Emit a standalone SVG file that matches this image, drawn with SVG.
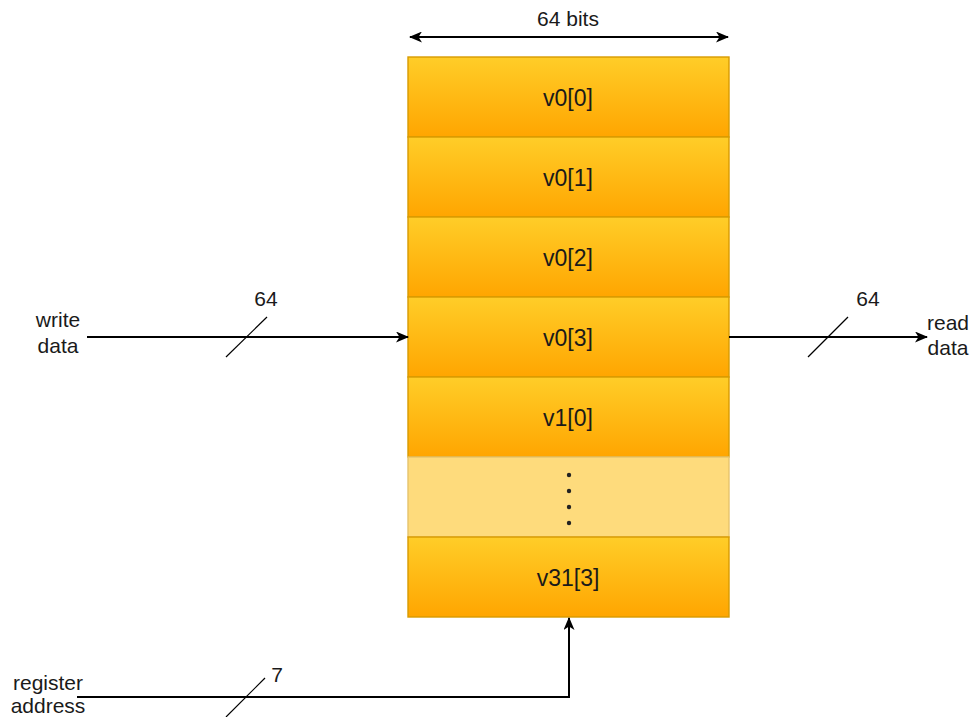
<svg xmlns="http://www.w3.org/2000/svg" width="973" height="717" viewBox="0 0 973 717">
  <defs>
    <linearGradient id="cellFill" x1="0" y1="0" x2="0" y2="1">
      <stop offset="0" stop-color="#ffcd28"/>
      <stop offset="1" stop-color="#ffa500"/>
    </linearGradient>
    <marker id="arrow" viewBox="0 0 13 11" refX="12" refY="5.5" markerWidth="13" markerHeight="11" markerUnits="userSpaceOnUse" orient="auto-start-reverse">
      <path d="M0,0 L13,5.5 L0,11 L3.5,5.5 Z" fill="#000"/>
    </marker>
  </defs>
  <style>
    text { font-family: "Liberation Sans", Arial, sans-serif; fill: #1a1a1a; text-anchor: middle; }
    .cell { fill: url(#cellFill); stroke: #d79b00; stroke-width: 1.4; }
    .gap { fill: #fedb7c; stroke: #e6c46c; stroke-width: 1.4; }
    .name { font-size: 23px; }
    .lbl { font-size: 21px; }
    .wire { fill: none; stroke: #000; stroke-width: 2; }
    .tick { stroke: #000; stroke-width: 1.2; }
  </style>

  <rect width="973" height="717" fill="#ffffff"/>

  <!-- register file rows -->
  <g id="row-v0-0"><rect class="cell" x="408" y="57" width="321" height="80"/><text class="name" x="568" y="106">v0[0]</text></g>
  <g id="row-v0-1"><rect class="cell" x="408" y="137" width="321" height="80"/><text class="name" x="568" y="186">v0[1]</text></g>
  <g id="row-v0-2"><rect class="cell" x="408" y="217" width="321" height="80"/><text class="name" x="568" y="266">v0[2]</text></g>
  <g id="row-v0-3"><rect class="cell" x="408" y="297" width="321" height="80"/><text class="name" x="568" y="346">v0[3]</text></g>
  <g id="row-v1-0"><rect class="cell" x="408" y="377" width="321" height="80"/><text class="name" x="568" y="426">v1[0]</text></g>
  <g id="row-ellipsis">
    <rect class="gap" x="408" y="457" width="321" height="80"/>
    <circle cx="569" cy="475" r="2.2" fill="#222"/>
    <circle cx="569" cy="491" r="2.2" fill="#222"/>
    <circle cx="569" cy="507" r="2.2" fill="#222"/>
    <circle cx="569" cy="523" r="2.2" fill="#222"/>
  </g>
  <g id="row-v31-3"><rect class="cell" x="408" y="537" width="321" height="80"/><text class="name" x="568" y="586">v31[3]</text></g>

  <!-- width annotation -->
  <g id="width-label"><text class="lbl" x="568" y="26">64 bits</text></g>

  <!-- port labels -->
  <g id="write-data"><text class="lbl" x="58" y="327">write</text><text class="lbl" x="58" y="353">data</text></g>
  <g id="read-data"><text class="lbl" x="948" y="330">read</text><text class="lbl" x="948" y="355">data</text></g>
  <g id="register-address"><text class="lbl" x="48" y="690">register</text><text class="lbl" x="48" y="713">address</text></g>

  <!-- bus widths -->
  <g id="bus-widths">
    <text class="lbl" x="266" y="306">64</text>
    <text class="lbl" x="868" y="306">64</text>
    <text class="lbl" x="277" y="682">7</text>
  </g>

  <!-- connectors -->
  <g id="connectors">
    <line class="wire" x1="410" y1="37" x2="728" y2="37" marker-start="url(#arrow)" marker-end="url(#arrow)"/>
    <line class="wire" x1="87" y1="337" x2="408" y2="337" marker-end="url(#arrow)"/>
    <line class="wire" x1="729" y1="337" x2="927" y2="337" marker-end="url(#arrow)"/>
    <polyline class="wire" points="77,697 569,697 569,618" marker-end="url(#arrow)"/>
    <line class="tick" x1="226" y1="357" x2="267" y2="317"/>
    <line class="tick" x1="808" y1="357" x2="848" y2="317"/>
    <line class="tick" x1="226" y1="717" x2="265" y2="678"/>
  </g>
</svg>
